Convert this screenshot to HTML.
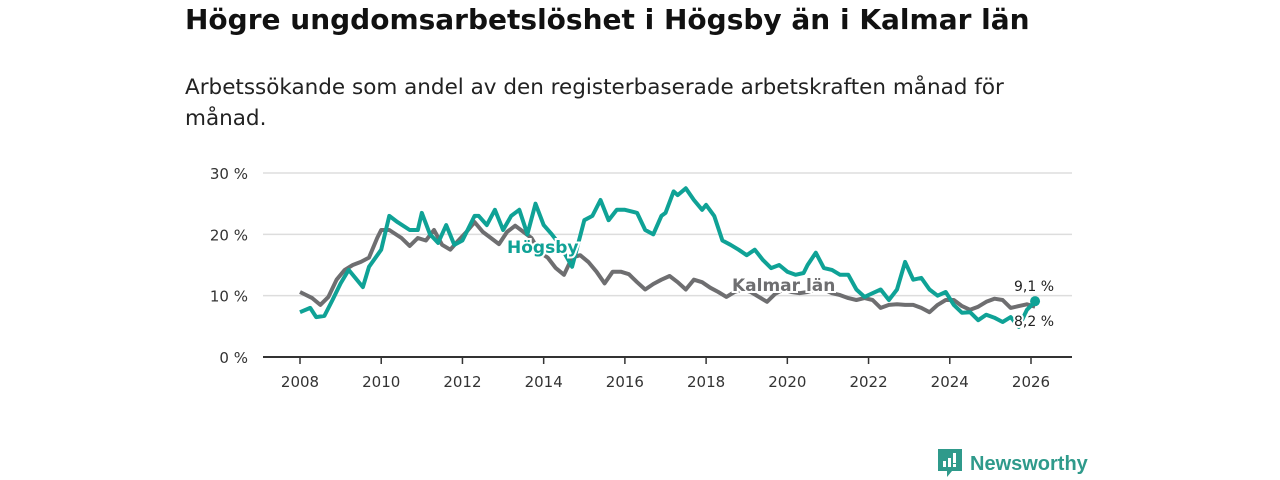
<!DOCTYPE html>
<html><head><meta charset="utf-8">
<style>
body{margin:0;background:#fff;width:1280px;height:480px;overflow:hidden;font-family:"DejaVu Sans",sans-serif;}
#title{position:absolute;left:185px;top:3px;font-size:28px;font-weight:bold;color:#111;margin:0;white-space:nowrap;}
#sub{position:absolute;left:185px;top:72px;font-size:21.5px;color:#222;line-height:31px;width:900px;white-space:nowrap;}
svg{position:absolute;left:0;top:0;}
</style></head><body>
<h1 id="title">Högre ungdomsarbetslöshet i Högsby än i Kalmar län</h1>
<div id="sub">Arbetssökande som andel av den registerbaserade arbetskraften månad för<br>månad.</div>
<svg id="chart" width="1280" height="480"></svg>
<script>
const hYears=[2008.0,2008.25,2008.4,2008.6,2008.8,2009.0,2009.2,2009.55,2009.7,2010.0,2010.2,2010.4,2010.7,2010.9,2011.0,2011.2,2011.4,2011.6,2011.8,2012.0,2012.3,2012.4,2012.6,2012.8,2013.0,2013.2,2013.4,2013.6,2013.8,2014.0,2014.2,2014.4,2014.7,2015.0,2015.2,2015.4,2015.6,2015.8,2016.0,2016.3,2016.5,2016.7,2016.9,2017.0,2017.2,2017.3,2017.5,2017.7,2017.9,2018.0,2018.2,2018.4,2018.6,2018.8,2019.0,2019.2,2019.4,2019.6,2019.8,2020.0,2020.2,2020.4,2020.5,2020.7,2020.9,2021.1,2021.3,2021.5,2021.7,2021.9,2022.1,2022.3,2022.5,2022.7,2022.9,2023.1,2023.3,2023.5,2023.7,2023.9,2024.1,2024.3,2024.5,2024.7,2024.9,2025.1,2025.3,2025.5,2025.7,2025.9,2026.1];
const hogsby=[7.3,8,6.5,6.7,9.3,12,14.2,11.4,14.7,17.5,23,22,20.7,20.7,23.5,20,18.6,21.5,18.3,19,23,23,21.5,24,20.7,23,24,20,25,21.5,20,18.3,14.7,22.3,23,25.6,22.3,24,24,23.5,20.7,20,23,23.5,27,26.4,27.5,25.6,24,24.8,23,19,18.3,17.5,16.6,17.5,15.8,14.5,15,13.9,13.4,13.7,15,17,14.5,14.2,13.4,13.4,11,9.8,10.4,11,9.3,11,15.5,12.6,12.9,11,10,10.6,8.5,7.2,7.3,6,6.9,6.4,5.7,6.5,4.9,7.7,9,9.1];
const kYears=[2008.0,2008.3,2008.5,2008.7,2008.9,2009.1,2009.3,2009.5,2009.7,2009.9,2010.0,2010.2,2010.5,2010.7,2010.9,2011.1,2011.3,2011.5,2011.7,2011.9,2012.1,2012.3,2012.5,2012.7,2012.9,2013.1,2013.3,2013.5,2013.7,2013.9,2014.1,2014.3,2014.5,2014.7,2014.9,2015.1,2015.3,2015.5,2015.7,2015.9,2016.1,2016.3,2016.5,2016.7,2016.9,2017.1,2017.3,2017.5,2017.7,2017.9,2018.1,2018.3,2018.5,2018.7,2018.9,2019.1,2019.3,2019.5,2019.7,2019.9,2020.1,2020.3,2020.5,2020.7,2020.9,2021.1,2021.3,2021.5,2021.7,2021.9,2022.1,2022.3,2022.5,2022.7,2022.9,2023.1,2023.3,2023.5,2023.7,2023.9,2024.1,2024.3,2024.5,2024.7,2024.9,2025.1,2025.3,2025.5,2025.7,2025.9,2026.1];
const kalmar=[10.6,9.6,8.5,9.8,12.6,14.2,15,15.5,16.2,19.4,20.7,20.7,19.4,18.1,19.4,19,20.7,18.3,17.5,19,20.4,22,20.4,19.4,18.4,20.4,21.4,20.4,19.4,17.1,16.2,14.5,13.4,16.2,16.6,15.5,13.9,12,13.9,13.9,13.5,12.2,11,11.9,12.6,13.2,12.2,11,12.6,12.2,11.3,10.6,9.8,10.6,11,10.6,9.8,9,10.3,11,10.6,10.4,10.6,11,11,10.4,10.1,9.6,9.3,9.6,9.3,8,8.5,8.6,8.5,8.5,8,7.3,8.5,9.3,9.3,8.3,7.7,8.2,9,9.5,9.3,8,8.3,8.6,8.2];
const yTicks=[0,10,20,30];
const yTickLabels=["0 %","10 %","20 %","30 %"];
const xTicks=[2008,2010,2012,2014,2016,2018,2020,2022,2024,2026];
const ns="http://www.w3.org/2000/svg";
const svg=document.getElementById('chart');
const FF='DejaVu Sans,sans-serif';
const X=y=>300+(y-2008)*(1031-300)/18;
const Y=v=>357-v*(357-173)/30;
function mk(t,a){const e=document.createElementNS(ns,t);for(const k in a)e.setAttribute(k,a[k]);svg.appendChild(e);return e;}
yTicks.forEach((v,i)=>{
  const g=mk('line',{x1:263,x2:1072,y1:Y(v),y2:Y(v),stroke:v===0?'#333':'#ddd','stroke-width':v===0?2:1.5});
  
  
  const t=mk('text',{x:248,y:Y(v)+6,'text-anchor':'end','font-size':15,fill:'#333','font-family':FF});
  t.textContent=yTickLabels[i];
  
  
});
xTicks.forEach(yr=>{
  const l=mk('line',{x1:X(yr),x2:X(yr),y1:357,y2:364,stroke:'#333','stroke-width':1.5});
  
  
  const t=mk('text',{x:X(yr),y:387,'text-anchor':'middle','font-size':15,fill:'#333','font-family':FF});
  t.textContent=yr;
  
  
});
function line(xs,vs,c,name){
  const d=xs.map((x,i)=>(i?'L':'M')+X(x).toFixed(1)+','+Y(vs[i]).toFixed(1)).join('');
  const p=mk('path',{d:d,fill:'none',stroke:c,'stroke-width':4,'stroke-linejoin':'round'});
  
  
}
line(kYears,kalmar,'#6e6e70','kalmar-line');
line(hYears,hogsby,'#0fa296','hogsby-line');
const dot=mk('circle',{cx:X(hYears[hYears.length-1]),cy:Y(hogsby[hogsby.length-1]),r:5,fill:'#0fa296'});


function lab(x,y,txt,c,name,size,bold){
  const t=mk('text',{x:x,y:y,'font-size':size,fill:c,'font-weight':bold?'bold':'normal',stroke:'#fff','stroke-width':4,'paint-order':'stroke','font-family':FF});
  t.textContent=txt;
  
  
}
lab(507,253,'Högsby','#0fa296','hogsby-label',17,true);
lab(732,291,'Kalmar län','#6e6e70','kalmar-label',17,true);
lab(1014,291,'9,1 %','#222','hogsby-end-value',14,false);
lab(1014,326,'8,2 %','#222','kalmar-end-value',14,false);
</script>
<div style="position:absolute;left:938px;top:450px;height:28px;display:flex;align-items:center;">
  <svg width="24" height="30" viewBox="0 0 24 30" style="position:static"><path d="M0 0H24V22H14L9 28V22H0Z" fill="#2f9a8b"/><rect x="5" y="12" width="3" height="6" fill="#fff"/><rect x="10" y="9" width="3" height="9" fill="#fff"/><rect x="15" y="4" width="3" height="10" fill="#fff"/><rect x="15" y="15" width="3" height="3" fill="#fff"/></svg>
  <span style="margin-left:8px;font-size:20px;font-weight:bold;color:#2f9a8b;font-family:'Liberation Sans',sans-serif;">Newsworthy</span>
</div>
</body></html>
